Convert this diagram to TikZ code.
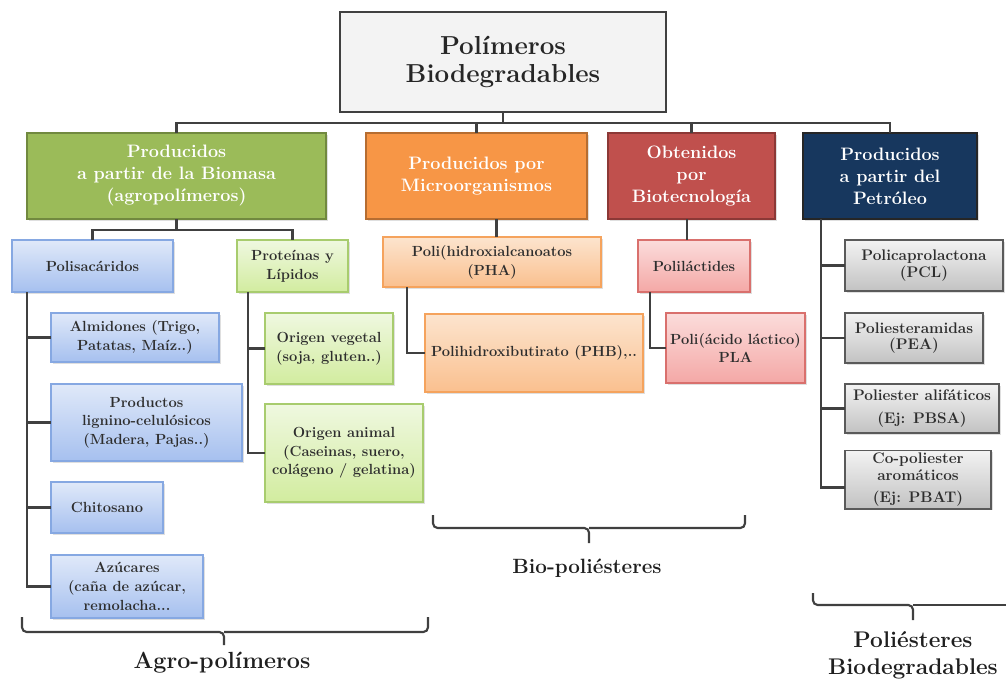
\documentclass[tikz,border=0pt]{standalone}
\usepackage{fontspec}
\usetikzlibrary{shadows}
\definecolor{cGreen}{HTML}{9BBB59}
\definecolor{cGreenD}{HTML}{71893F}
\definecolor{cOrange}{HTML}{F79646}
\definecolor{cOrangeD}{HTML}{B66D31}
\definecolor{cRed}{HTML}{C0504D}
\definecolor{cRedD}{HTML}{8C3836}
\definecolor{cNavy}{HTML}{17375E}
\definecolor{cLine}{HTML}{404040}
\definecolor{cTxt}{HTML}{2E2E2E}
\definecolor{bTop}{HTML}{E0E9F9}
\definecolor{bBot}{HTML}{A6C0EF}
\definecolor{bDr}{HTML}{86A8E2}
\definecolor{gTop}{HTML}{EFF8E0}
\definecolor{gBot}{HTML}{D2EC9F}
\definecolor{gDr}{HTML}{A8CC6E}
\definecolor{oTop}{HTML}{FCE4CE}
\definecolor{oBot}{HTML}{FAC08F}
\definecolor{oDr}{HTML}{F5A35D}
\definecolor{pTop}{HTML}{FBDCDB}
\definecolor{pBot}{HTML}{F4A8A6}
\definecolor{pDr}{HTML}{D9706D}
\definecolor{yTop}{HTML}{F3F3F3}
\definecolor{yBot}{HTML}{C2C2C2}
\definecolor{yDr}{HTML}{5A5A5A}
\newcommand\bx[7]{\node[#2, minimum width={(#5-#3)*0.75pt}, minimum height={(#6-#4)*0.75pt}] (#1) at ({(#3+#5)/2},{(#4+#6)/2}) {#7};}
\begin{document}
\begin{tikzpicture}[x=0.75pt,y=-0.75pt,
  box/.style={draw, line width=1.1pt, inner sep=2pt, outer sep=0pt, align=center},
  shd/.style={drop shadow={opacity=0.25,shadow xshift=1.2pt,shadow yshift=-1.2pt}},
  titlebox/.style={box, fill=yTop, draw=cLine, line width=1.6pt, text=black!85,
    font=\bfseries\fontsize{19.5}{21}\selectfont},
  lvl2/.style={box, shd, text=white, line width=1.3pt, font=\bfseries\fontsize{13.5}{16.5}\selectfont},
  small/.style={box, shd, text=cTxt, font=\bfseries\fontsize{11}{14}\selectfont},
  bluebox/.style={small, top color=bTop, bottom color=bBot, draw=bDr},
  lgreenbox/.style={small, top color=gTop, bottom color=gBot, draw=gDr},
  orangebox/.style={small, top color=oTop, bottom color=oBot, draw=oDr},
  pinkbox/.style={small, top color=pTop, bottom color=pBot, draw=pDr},
  graybox/.style={small, top color=yTop, bottom color=yBot, draw=yDr, font=\bfseries\fontsize{11.5}{12.5}\selectfont},
  conn/.style={draw=cLine, line width=1.9pt},
  brace/.style={draw=cLine, line width=1.6pt, rounded corners=3.5pt},
  lbl/.style={text=black!88, align=center, inner sep=1pt},
]
\useasboundingbox (0,0) rectangle (1006,683);

% ---- boxes ----
\bx{top}{titlebox}{340}{12}{666}{112}{Polímeros\\Biodegradables}
\bx{agr}{lvl2,fill=cGreen,draw=cGreenD}{27}{133}{326}{219}{Producidos\\a partir de la Biomasa\\(agropolímeros)}
\bx{mic}{lvl2,fill=cOrange,draw=cOrangeD}{366}{133}{587}{219}{Producidos por\\Microorganismos}
\bx{bio}{lvl2,fill=cRed,draw=cRedD}{608}{133}{775}{219}{Obtenidos\\por\\Biotecnología}
\bx{pet}{lvl2,fill=cNavy,draw=black!85}{803}{133}{977}{219}{Producidos\\a partir del\\Petróleo}

\bx{pol}{bluebox}{12}{240}{173}{292}{Polisacáridos}
\bx{pro}{lgreenbox}{237}{240}{348}{292}{Proteínas y\\Lípidos}
\bx{alm}{bluebox}{51}{313}{219}{362}{Almidones (Trigo,\\Patatas, Maíz..)}
\bx{lig}{bluebox}{51}{384}{242}{461}{Productos\\lignino-celulósicos\\(Madera, Pajas..)}
\bx{chi}{bluebox}{51}{482}{163}{533}{Chitosano}
\bx{azu}{bluebox}{51}{555}{203}{618}{Azúcares\\(caña de azúcar,\\remolacha...}
\bx{veg}{lgreenbox}{265}{313}{393}{384}{Origen vegetal\\(soja, gluten..)}
\bx{ani}{lgreenbox}{265}{404}{423}{502}{Origen animal\\(Caseinas, suero,\\colágeno / gelatina)}

\bx{pha}{orangebox}{383}{237}{601}{287}{Poli(hidroxialcanoatos\\(PHA)}
\bx{phb}{orangebox}{425}{314}{643}{392}{Polihidroxibutirato (PHB),..}
\bx{pla}{pinkbox}{638}{240}{750}{292}{Poliláctides}
\bx{plx}{pinkbox}{666}{313}{805}{383}{Poli(ácido láctico)\\PLA}

\bx{pcl}{graybox}{845}{240}{1003}{291}{Policaprolactona\\(PCL)}
\bx{pea}{graybox}{845}{313}{983}{363}{Poliesteramidas\\(PEA)}
\bx{ali}{graybox}{845}{384}{999}{433}{Poliester alifáticos\\[5pt](Ej: PBSA)}
\bx{cop}{graybox}{845}{455}{991}{504}{Co-poliester\\aromáticos\\[4pt](Ej: PBAT)}

% ---- connectors ----
\coordinate (bus) at (0,123);
\draw[conn] (top.south) -- (top.south |- bus);
\draw[conn] (agr.north) -- (agr.north |- bus) -- (pet.north |- bus) -- (pet.north);
\draw[conn] (mic.north) -- (mic.north |- bus);
\draw[conn] (bio.north) -- (bio.north |- bus);

\coordinate (bus2) at (0,230);
\draw[conn] (agr.south) -- (agr.south |- bus2);
\draw[conn] (pol.north) -- (pol.north |- bus2) -- (pro.north |- bus2) -- (pro.north);

\coordinate (ps) at ([xshift=11.25pt]pol.south west);
\draw[conn] (ps) |- (azu.west);
\draw[conn] (ps |- alm.west) -- (alm.west);
\draw[conn] (ps |- lig.west) -- (lig.west);
\draw[conn] (ps |- chi.west) -- (chi.west);

\coordinate (pp) at ([xshift=8.25pt]pro.south west);
\draw[conn] (pp) |- (ani.west);
\draw[conn] (pp |- veg.west) -- (veg.west);

\coordinate (mc) at ([xshift=15pt]mic.south);
\draw[conn] (mc) -- (mc |- pha.north);
\coordinate (hp) at ([xshift=18pt]pha.south west);
\draw[conn] (hp) |- (phb.west);

\coordinate (bc) at ([xshift=-3.5pt]bio.south);
\draw[conn] (bc) -- (bc |- pla.north);
\coordinate (lp) at ([xshift=9pt]pla.south west);
\draw[conn] (lp) |- (plx.west);

\coordinate (pv) at ([xshift=13.5pt]pet.south west);
\coordinate (cw) at ([yshift=-6pt]cop.west);
\draw[conn] (pv) |- (cw);
\draw[conn] (pv |- pcl.west) -- (pcl.west);
\draw[conn] (pv |- pea.west) -- (pea.west);
\draw[conn] (pv |- ali.west) -- (ali.west);

% ---- braces and group labels ----
\node[lbl, font=\bfseries\fontsize{17.5}{19}\selectfont] (agl) at (222,663) {Agro-polímeros};
\coordinate (agL) at (22,617);
\coordinate (agR) at (428,617);
\coordinate (agM) at (224,632);
\draw[brace] (agL) |- (agM) -- ++(0,13);
\draw[brace] (agR) |- (agM);

\node[lbl, font=\bfseries\fontsize{15.5}{18}\selectfont] (bil) at (587,568) {Bio-poliésteres};
\coordinate (biL) at (433,515);
\coordinate (biR) at (745,515);
\coordinate (biM) at (589,528);
\draw[brace] (biL) |- (biM) -- ++(0,15);
\draw[brace] (biR) |- (biM);

\node[lbl, font=\bfseries\fontsize{17}{20}\selectfont] (pbl) at (913,655) {Poliésteres\\Biodegradables};
\coordinate (pbL) at (813,593);
\coordinate (pbR) at (1012,605);
\coordinate (pbM) at (913,605);
\draw[brace] (pbL) |- (pbM) -- ++(0,15);
\draw[brace] (pbR) -- (pbM);
\end{tikzpicture}
\end{document}
